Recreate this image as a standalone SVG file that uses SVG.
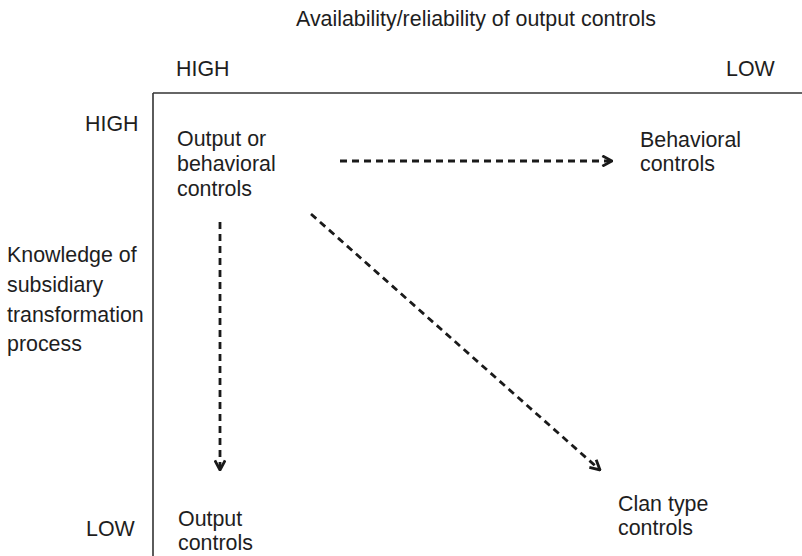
<svg xmlns="http://www.w3.org/2000/svg" width="802" height="556" viewBox="0 0 802 556">
  <defs>
    <style>
      .t { font-family: "Liberation Sans", Arial, sans-serif; font-size: 21.4px; fill: #1e1e1e; }
      .axis { stroke: #333; stroke-width: 1.6; fill: none; }
      .conn { stroke: #1a1a1a; stroke-width: 2.8; fill: none; stroke-dasharray: 7 5; }
    </style>
    <marker id="chev" viewBox="0 0 10 10" refX="9" refY="5" markerWidth="4.6" markerHeight="4.6" orient="auto" markerUnits="strokeWidth">
      <path d="M1.5,1 L9,5 L1.5,9" fill="none" stroke="#1a1a1a" stroke-width="2.2"/>
    </marker>
  </defs>

  <rect width="802" height="556" fill="#fff"/>

  <!-- axes -->
  <g id="axes">
    <line class="axis" x1="153" y1="93" x2="802" y2="93"/>
    <line class="axis" x1="153" y1="93" x2="153" y2="556"/>
  </g>

  <!-- axis labels -->
  <g id="axis-labels">
    <text class="t" x="296" y="26">Availability/reliability of output controls</text>
    <text class="t" x="176" y="76">HIGH</text>
    <text class="t" x="726" y="76">LOW</text>
    <text class="t" x="85" y="131">HIGH</text>
    <text class="t" x="86" y="536">LOW</text>
    <text class="t" x="7" y="262">Knowledge of</text>
    <text class="t" x="7" y="292">subsidiary</text>
    <text class="t" x="7" y="322">transformation</text>
    <text class="t" x="7" y="351">process</text>
  </g>

  <g id="node-output-behavioral">
    <text class="t" x="177" y="146">Output or</text>
    <text class="t" x="177" y="171">behavioral</text>
    <text class="t" x="177" y="196">controls</text>
  </g>

  <g id="node-behavioral">
    <text class="t" x="640" y="147">Behavioral</text>
    <text class="t" x="640" y="171">controls</text>
  </g>

  <g id="node-output">
    <text class="t" x="178" y="526">Output</text>
    <text class="t" x="178" y="550">controls</text>
  </g>

  <g id="node-clan">
    <text class="t" x="618" y="511">Clan type</text>
    <text class="t" x="618" y="535">controls</text>
  </g>

  <!-- connectors -->
  <g id="connectors">
    <line class="conn" x1="340" y1="161" x2="612" y2="161" marker-end="url(#chev)"/>
    <line class="conn" x1="220" y1="222" x2="220" y2="470" marker-end="url(#chev)"/>
    <line class="conn" x1="311" y1="214" x2="600" y2="470" marker-end="url(#chev)"/>
  </g>
</svg>
